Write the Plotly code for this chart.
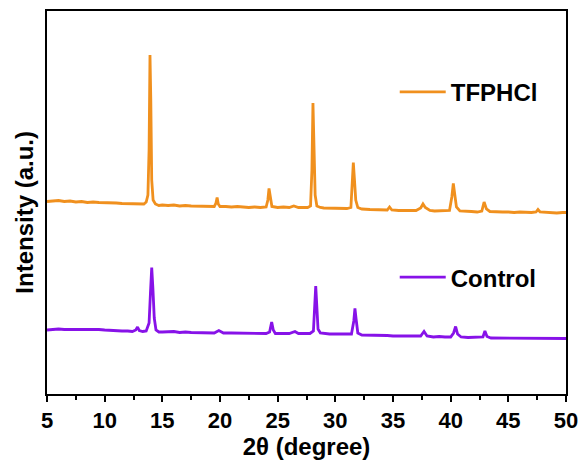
import plotly.graph_objects as go

# ---- data (2θ in degrees, intensity in a.u., offset as drawn) ----
tfphcl_x = [5.0, 5.5, 6.0, 6.5, 7.0, 7.5, 8.0, 8.5, 9.0, 9.5, 10.0, 10.5, 11.0, 11.5, 12.0, 12.5, 13.0, 13.4,
            13.6, 13.75, 13.85, 13.93, 14.0, 14.08, 14.2, 14.4, 14.7, 15.0, 15.5, 16.0, 16.5, 17.0, 17.5, 18.0,
            18.5, 19.0, 19.5, 19.65, 19.75, 19.85, 20.0, 20.5, 21.0, 21.5, 22.0, 22.5, 23.0, 23.5, 24.0, 24.15,
            24.25, 24.35, 24.5, 25.0, 25.5, 26.0, 26.4, 26.8, 27.2, 27.6, 27.85, 27.97, 28.06, 28.14, 28.25,
            28.4, 28.7, 29.0, 29.5, 30.0, 30.5, 31.0, 31.35, 31.46, 31.56, 31.65, 31.77, 31.95, 32.3, 33.0,
            33.5, 34.0, 34.5, 34.7, 34.9, 35.5, 36.0, 36.5, 37.0, 37.4, 37.6, 37.8, 38.2, 38.6, 39.0, 39.5,
            39.9, 40.1, 40.23, 40.35, 40.5, 40.8, 41.2, 41.8, 42.3, 42.7, 42.9, 43.1, 43.4, 44.0, 44.5, 45.0,
            45.5, 46.0, 46.5, 47.0, 47.4, 47.57, 47.75, 48.2, 48.7, 49.2, 49.7, 50.0]
tfphcl_y = [191.5, 192, 192.5, 191.5, 192, 191, 191.5, 190.5, 191, 190.5, 190.5, 190, 190, 189.5, 189.5, 189, 189, 189,
            191, 198, 243, 338, 293, 213, 193, 189, 187.5, 188, 187.5, 188, 187, 187.5, 187, 187,
            186.5, 187, 186.5, 190, 195.5, 189, 186.5, 186.5, 186, 186.5, 186, 185.5, 186, 185.5, 186, 193,
            204.5, 196, 186.5, 185.5, 186, 185.5, 187, 185.5, 185.5, 185.5, 187, 223, 290, 253, 198,
            187, 185.5, 185, 185, 184.5, 185, 184.5, 185.5, 208, 230.5, 215, 193, 185.5, 184, 183.5,
            183.5, 183, 183, 186, 183, 182.5, 182.5, 182.5, 182.5, 185, 189, 185.5, 182.5, 182, 182, 182,
            182.5, 196, 209.5, 199, 186, 182, 181.5, 181.5, 181, 182, 191, 184, 181.5, 181, 181, 181,
            180.5, 181, 180.5, 180.5, 181, 183.5, 181, 180.5, 180.5, 180, 180.5, 180.5]

control_x = [5.0, 5.5, 6.0, 6.5, 7.0, 7.5, 8.0, 8.5, 9.0, 9.5, 10.0, 10.5, 11.0, 11.5, 12.0, 12.4, 12.7, 12.85,
             13.0, 13.3, 13.6, 13.85, 13.97, 14.08, 14.18, 14.3, 14.45, 14.7, 15.0, 15.5, 16.0, 16.5, 17.0,
             17.5, 18.0, 18.5, 19.0, 19.5, 19.9, 20.3, 21.0, 21.5, 22.0, 22.5, 23.0, 23.5, 24.0, 24.3, 24.48,
             24.62, 24.8, 25.5, 26.0, 26.5, 26.8, 27.3, 27.8, 28.1, 28.22, 28.3, 28.38, 28.5, 28.7, 29.0,
             29.5, 30.0, 30.5, 31.0, 31.4, 31.6, 31.7, 31.8, 31.95, 32.3, 33.0, 33.5, 34.0, 34.5, 35.0, 35.5,
             36.0, 36.5, 37.0, 37.4, 37.69, 37.95, 38.5, 39.0, 39.5, 40.0, 40.25, 40.43, 40.6, 40.9, 41.5,
             42.0, 42.5, 42.8, 42.97, 43.15, 43.5, 44.0, 44.5, 45.0, 45.5, 46.0, 46.5, 47.0, 47.5, 48.0,
             48.5, 49.0, 49.5, 50.0]
control_y = [63, 63.5, 64, 63.5, 63.5, 64, 63.5, 64, 63.5, 63.5, 63, 62.5, 62.5, 62, 62, 61.5, 63, 66,
             62.5, 61.5, 62, 70, 100, 125.5, 105, 75, 63, 61, 61, 61, 61.5, 60.5, 61,
             60.5, 60.5, 60, 60.5, 60, 62.5, 60, 60, 60, 59.5, 60, 59.5, 59.5, 59.5, 61, 71,
             63, 59.5, 59.5, 59.5, 61.5, 59.5, 59.5, 59.5, 62, 90, 107, 90, 64, 60, 59.5,
             59, 59, 59, 58.5, 59, 72, 84.5, 74, 60, 58, 58, 57.5, 57.5, 57.5, 57, 57,
             57, 57, 56.5, 57, 61.5, 57, 56, 56.5, 56, 56, 60, 66.5, 59, 56, 55.5,
             55.5, 55.5, 56, 62, 56.5, 55, 55, 55, 55, 55, 54.5, 55, 54.5, 54.5, 54.5,
             54.5, 54.5, 54.5, 54.5]

x_ticks = [5, 10, 15, 20, 25, 30, 35, 40, 45, 50]
series_names = ["TFPHCl", "Control"]
series_colors = ["#F0901E", "#8712E8"]
y_title = "Intensity (a.u.)"
x_title = "2θ (degree)"

FONT = "Liberation Sans, Arial, sans-serif"

fig = go.Figure()
fig.add_trace(go.Scatter(x=tfphcl_x, y=tfphcl_y, mode="lines", name=series_names[0],
                         line=dict(color=series_colors[0], width=2.8), legend="legend"))
fig.add_trace(go.Scatter(x=control_x, y=control_y, mode="lines", name=series_names[1],
                         line=dict(color=series_colors[1], width=2.8), legend="legend2"))

legend_common = dict(font=dict(family=FONT, size=24, color="black", weight="bold"),
                     bgcolor="rgba(0,0,0,0)", borderwidth=0, itemwidth=46,
                     xanchor="left", yanchor="middle")

fig.update_layout(
    width=582, height=463,
    margin=dict(l=47, r=16, t=11, b=69, autoexpand=False),
    paper_bgcolor="white", plot_bgcolor="white",
    showlegend=True,
    legend=dict(x=0.67, y=0.788, **legend_common),
    legend2=dict(x=0.67, y=0.304, **legend_common),
    xaxis=dict(
        range=[5, 50], tickvals=x_ticks, ticktext=[str(v) for v in x_ticks],
        automargin=False,
        showgrid=False, zeroline=False,
        showline=True, linecolor="black", linewidth=2, mirror=True,
        ticks="outside", ticklen=6, tickwidth=2, tickcolor="black",
        ticklabelstandoff=0,
        minor=dict(dtick=2.5, tick0=2.5, ticks="outside", ticklen=4, tickwidth=2, tickcolor="black"),
        tickfont=dict(family=FONT, size=22, color="black", weight="bold"),
        title=dict(text=x_title, font=dict(family=FONT, size=24, color="black", weight="bold"),
                   standoff=3),
    ),
    yaxis=dict(
        range=[-1, 382], showticklabels=False, ticks="",
        automargin=False,
        showgrid=False, zeroline=False,
        showline=True, linecolor="black", linewidth=2, mirror=True,
    ),
    annotations=[dict(text=y_title, textangle=-90, xref="paper", yref="paper",
                      x=-0.0424, y=0.476, xanchor="center", yanchor="middle", showarrow=False,
                      font=dict(family=FONT, size=24, color="black", weight="bold"))],
)

fig.write_html("out.html", config={"displayModeBar": False},
               post_script="document.body.style.margin='0';")
